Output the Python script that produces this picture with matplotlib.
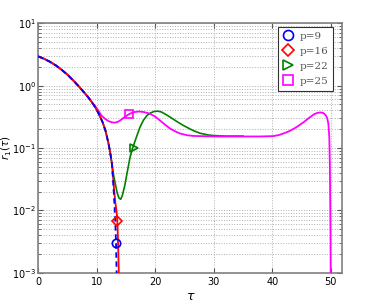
import numpy as np
import matplotlib
matplotlib.use("Agg")
import matplotlib.pyplot as plt

plt.rcParams["axes.unicode_minus"] = False

# shared decay, all orders follow it at first
tau_common = [0, 1, 2, 3, 4, 5, 6, 7, 8, 8.5, 9, 9.5, 10, 10.5, 11, 11.5, 12, 12.3, 12.6]
r_common = [2.95, 2.70, 2.42, 2.12, 1.80, 1.50, 1.21, 0.96, 0.75, 0.66, 0.57, 0.49, 0.41, 0.33, 0.26, 0.19, 0.12, 0.085, 0.056]

tau_p9 = tau_common + [12.8, 13.0, 13.15, 13.3, 13.38, 13.42]
r_p9 = r_common + [0.030, 0.014, 0.0075, 0.003, 0.0013, 0.0008]

tau_p16 = tau_common + [12.8, 13.0, 13.2, 13.4, 13.55, 13.7, 13.8]
r_p16 = r_common + [0.034, 0.020, 0.013, 0.0095, 0.0060, 0.0020, 0.0008]

tau_p22 = tau_common + [12.9, 13.2, 13.5, 13.8, 14.1, 14.4, 14.8, 15.2, 15.7, 16.1, 16.5, 17.0, 17.4,
                        18.0, 18.6, 19.2, 19.8, 20.4, 21.0, 21.7, 22.5, 23.2, 24.0, 24.8, 25.6,
                        26.5, 27.7, 29.0, 30.0, 32.0, 35.0]
r_p22 = r_common + [0.036, 0.026, 0.019, 0.0158, 0.0150, 0.0175, 0.025, 0.040, 0.071, 0.097, 0.125, 0.17, 0.216,
                    0.28, 0.333, 0.365, 0.385, 0.39, 0.38, 0.35, 0.315, 0.285, 0.255, 0.23, 0.21,
                    0.19, 0.172, 0.162, 0.158, 0.155, 0.155]

tau_p25 = tau_common[:10] + [9.0, 9.4, 9.8, 10.2, 10.8, 11.4, 12.0, 12.6, 13.1, 13.6, 14.2, 14.8, 15.6, 16.3, 17.2,
                             18.0, 19.1, 20.0, 20.8, 21.6, 22.5, 23.4, 24.3, 25.5, 26.5, 27.7, 30, 35, 38.0,
                             40.2, 41.2, 42.0, 43.0, 44.0, 44.8, 45.5, 46.3, 47.1, 47.7, 48.2, 48.7, 49.1, 49.4,
                             49.6, 49.75, 49.85, 49.95, 50.0]
r_p25 = r_common[:10] + [0.58, 0.51, 0.46, 0.41, 0.333, 0.295, 0.27, 0.258, 0.255, 0.262, 0.285, 0.315, 0.352, 0.375, 0.385,
                         0.378, 0.355, 0.318, 0.277, 0.24, 0.206, 0.185, 0.17, 0.16, 0.156, 0.155, 0.153, 0.153, 0.153,
                         0.155, 0.162, 0.172, 0.188, 0.212, 0.238, 0.265, 0.305, 0.345, 0.365, 0.372, 0.365, 0.34, 0.30,
                         0.24, 0.15, 0.05, 0.005, 0.0005]

# marker spots
mark_tau = [13.3, 13.55, 16.3, 15.6]
mark_r = [0.003, 0.0068, 0.10, 0.352]
labels = ["p=9", "p=16", "p=22", "p=25"]
colors = ["#0000ff", "#ff0000", "#008000", "#ff00ff"]
markers = ["o", "D", ">", "s"]

fig = plt.figure(figsize=(3.78, 3.07), dpi=100)
ax = fig.add_axes([0.101, 0.112, 0.805, 0.812])

ax.plot(tau_p25, r_p25, color=colors[3], lw=1.3, zorder=3)
ax.plot(tau_p22, r_p22, color=colors[2], lw=1.2, zorder=2)
ax.plot(tau_p16, r_p16, color=colors[1], lw=1.3, zorder=4)
ax.plot(tau_p9, r_p9, color=colors[0], lw=1.3, ls=(0, (3, 2)), zorder=5)

for t, r, lab, c, m in zip(mark_tau, mark_r, labels, colors, markers):
    ax.plot([t], [r], ls="none", marker=m, ms=6 if m != "D" else 5.5, mfc="none",
            mec=c, mew=1.2, label=lab, zorder=6)

ax.set_yscale("log")
ax.set_xlim(0, 52)
ax.set_ylim(1e-3, 1e1)
ax.set_xticks([0, 10, 20, 30, 40, 50])
ax.grid(True, which="major", ls=":", color="#b0b0b0", lw=0.7)
ax.grid(True, which="minor", axis="y", ls=":", color="#b0b0b0", lw=0.7)
ax.tick_params(which="both", direction="in", top=True, right=True, labelsize=7, color="#555555")
ax.tick_params(axis="y", pad=1.5)
for s in ax.spines.values():
    s.set_color("#808080")
    s.set_linewidth(1.2)

ax.set_xlabel(r"$\tau$", fontsize=9, labelpad=2)
ax.set_ylabel(r"$\hat{r}_1(\tau)$", fontsize=7.5)
ax.yaxis.set_label_coords(-0.082, 0.5)

leg = ax.legend(loc="upper right", bbox_to_anchor=(0.970, 0.986), borderaxespad=0,
                prop={"family": "DejaVu Serif", "size": 7.5},
                fancybox=False, edgecolor="#333333", framealpha=1, handletextpad=0.5,
                handlelength=1.2, borderpad=0.45, labelspacing=0.55, markerscale=1.2)
leg.get_frame().set_linewidth(0.8)
for txt in leg.get_texts():
    txt.set_color("#555555")

fig.savefig("out.png", dpi=100)
